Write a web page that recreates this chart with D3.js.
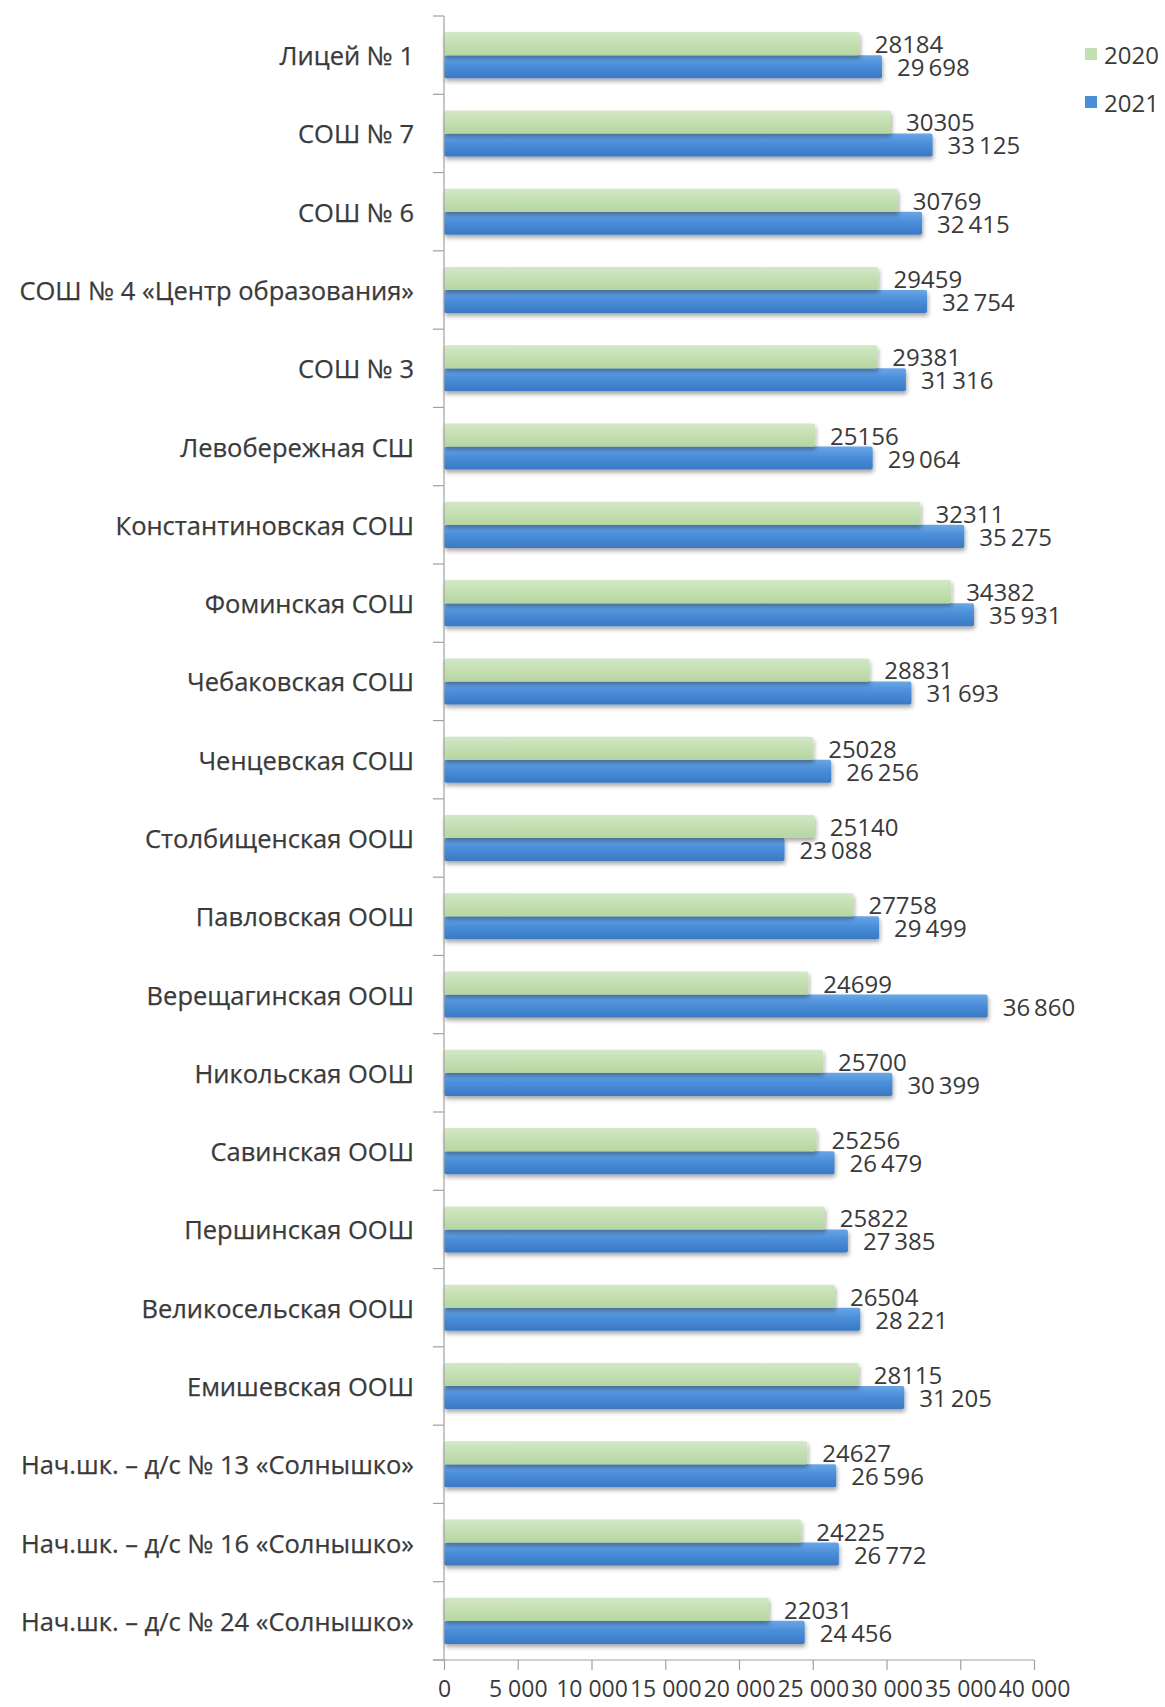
<!DOCTYPE html>
<html><head><meta charset="utf-8">
<script src="https://cdn.jsdelivr.net/npm/d3@7"></script>
<style>
html,body{margin:0;padding:0;background:#fff;}
svg text{font-family:"Open Sans",sans-serif;fill:#3a3a3a;}
</style></head>
<body><svg id="chart" width="1165" height="1707"></svg>
<script>
const categories = [
  "Лицей № 1","СОШ № 7","СОШ № 6","СОШ № 4 «Центр образования»","СОШ № 3",
  "Левобережная СШ","Константиновская СОШ","Фоминская СОШ","Чебаковская СОШ","Ченцевская СОШ",
  "Столбищенская ООШ","Павловская ООШ","Верещагинская ООШ","Никольская ООШ","Савинская ООШ",
  "Першинская ООШ","Великосельская ООШ","Емишевская ООШ",
  "Нач.шк. – д/с № 13 «Солнышко»","Нач.шк. – д/с № 16 «Солнышко»","Нач.шк. – д/с № 24 «Солнышко»"
];
const values2020 = [28184,30305,30769,29459,29381,25156,32311,34382,28831,25028,25140,27758,24699,25700,25256,25822,26504,28115,24627,24225,22031];
const values2021 = [29698,33125,32415,32754,31316,29064,35275,35931,31693,26256,23088,29499,36860,30399,26479,27385,28221,31205,26596,26772,24456];
const seriesNames = ["2020","2021"];
const xTicks = [0,5000,10000,15000,20000,25000,30000,35000,40000];

const svg = d3.select("#chart");
const defs = svg.append("defs");
const gG = defs.append("linearGradient").attr("id","gGreen").attr("x1",0).attr("y1",0).attr("x2",0).attr("y2",1);
gG.append("stop").attr("offset","0%").attr("stop-color","#d3e8c6");
gG.append("stop").attr("offset","50%").attr("stop-color","#c4dfb2");
gG.append("stop").attr("offset","100%").attr("stop-color","#b6d6a1");
const gB = defs.append("linearGradient").attr("id","gBlue").attr("x1",0).attr("y1",0).attr("x2",0).attr("y2",1);
gB.append("stop").attr("offset","0%").attr("stop-color","#6aa6e6");
gB.append("stop").attr("offset","45%").attr("stop-color","#4a8ed9");
gB.append("stop").attr("offset","100%").attr("stop-color","#3a78c4");
const f = defs.append("filter").attr("id","shadow").attr("x","-5%").attr("y","-30%").attr("width","115%").attr("height","180%");
f.append("feDropShadow").attr("dx",1).attr("dy",3).attr("stdDeviation",2).attr("flood-color","#000").attr("flood-opacity",0.35);

const x = d3.scaleLinear().domain([0,40000]).range([444,1034]);
const y = d3.scaleBand().domain(categories).range([16,1660]).padding(0);
const bw = y.bandwidth();
const groupH = bw/1.7;
const barH = groupH/2;
const off = (bw-groupH)/2;

const loc = d3.formatLocale({decimal:",",thousands:"\u2009",grouping:[3],currency:["",""]});
const fmt = loc.format(",");
const fmtTick = d3.formatLocale({decimal:",",thousands:" ",grouping:[3],currency:["",""]}).format(",");

// bars
const data = categories.map((c,i)=>({c,v20:values2020[i],v21:values2021[i]}));
const g = svg.append("g");
g.selectAll("rect.b21").data(data).join("rect").attr("class","b21")
  .attr("x",x(0)).attr("y",d=>y(d.c)+off+barH).attr("height",barH)
  .attr("width",d=>x(d.v21)-x(0)).attr("rx",2)
  .attr("fill","url(#gBlue)").attr("filter","url(#shadow)");
g.selectAll("rect.b20").data(data).join("rect").attr("class","b20")
  .attr("x",x(0)).attr("y",d=>y(d.c)+off).attr("height",barH)
  .attr("width",d=>x(d.v20)-x(0)).attr("rx",2)
  .attr("fill","url(#gGreen)").attr("filter","url(#shadow)");

// value labels
const fs = 24;
g.selectAll("text.l20").data(data).join("text").attr("class","l20")
  .attr("x",d=>x(d.v20)+15).attr("y",d=>y(d.c)+off+barH/2)
  .attr("dominant-baseline","central").attr("font-size",fs)
  .text(d=>d.v20);
g.selectAll("text.l21").data(data).join("text").attr("class","l21")
  .attr("x",d=>x(d.v21)+15).attr("y",d=>y(d.c)+off+barH*1.5)
  .attr("dominant-baseline","central").attr("font-size",fs)
  .text(d=>fmt(d.v21));

// category axis
const axisColor = "#a0a0a0";
svg.append("line").attr("x1",x(0)).attr("x2",x(0)).attr("y1",16).attr("y2",1660)
  .attr("stroke",axisColor).attr("stroke-width",1.2);
const bounds = categories.map(c=>y(c)).concat([y.range()[1]]);
svg.selectAll("line.ct").data(bounds).join("line").attr("class","ct")
  .attr("x1",x(0)-11).attr("x2",x(0)).attr("y1",d=>d).attr("y2",d=>d)
  .attr("stroke",axisColor).attr("stroke-width",1.2);
svg.selectAll("text.cat").data(categories).join("text").attr("class","cat")
  .attr("x",414).attr("y",c=>y(c)+bw/2).attr("text-anchor","end")
  .attr("dominant-baseline","central").attr("font-size",25.5)
  .attr("stroke","#3a3a3a").attr("stroke-width",0.25)
  .text(c=>c);

// value axis
const xAxis = d3.axisBottom(x).tickValues(xTicks).tickSize(10).tickPadding(11).tickFormat(fmtTick);
const ax = svg.append("g").attr("transform","translate(0,1660)").call(xAxis);
ax.select(".domain").remove();
ax.append("line").attr("x1",x(0)-11).attr("x2",x(40000)).attr("y1",0).attr("y2",0).attr("stroke",axisColor).attr("stroke-width",1.2);
ax.selectAll(".tick line").attr("stroke",axisColor).attr("stroke-width",1.2);
ax.selectAll(".tick text").attr("font-size",23).attr("fill","#3a3a3a").attr("font-family","Open Sans");

// legend
const legend = svg.append("g");
const colors = ["#c4dfb2","#4a8ed9"];
seriesNames.forEach((s,i)=>{
  const ly = 54 + i*48;
  legend.append("rect").attr("x",1085).attr("y",ly-6).attr("width",12).attr("height",12).attr("fill",colors[i]);
  legend.append("text").attr("x",1104).attr("y",ly).attr("dominant-baseline","central").attr("font-size",24).text(s);
});
</script></body></html>
